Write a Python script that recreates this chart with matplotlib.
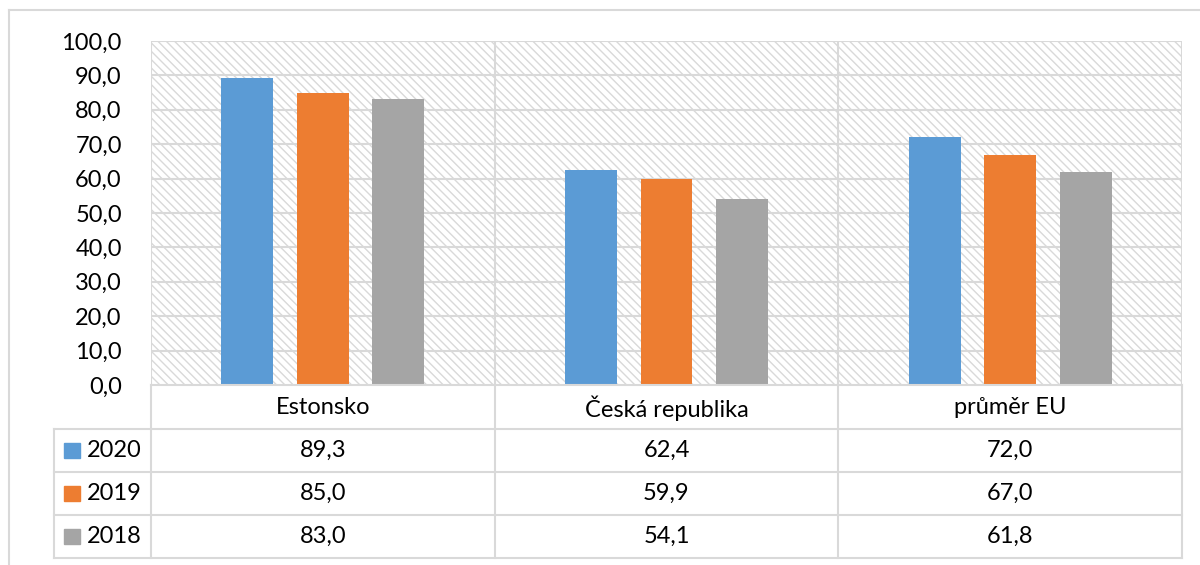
import matplotlib.pyplot as plt
from matplotlib.lines import Line2D
from matplotlib.patches import Rectangle

# Data
kategorie = ["Estonsko", "Česká republika", "průměr EU"]
roky = ["2020", "2019", "2018"]
hodnoty_2020 = [89.3, 62.4, 72.0]
hodnoty_2019 = [85.0, 59.9, 67.0]
hodnoty_2018 = [83.0, 54.1, 61.8]
barvy = ["#5B9BD5", "#ED7D31", "#A5A5A5"]

serie = [hodnoty_2020, hodnoty_2019, hodnoty_2018]
seda = "#d9d9d9"
fs = 17

plt.rcParams['font.family'] = ['Lato', 'DejaVu Sans']
plt.rcParams['hatch.linewidth'] = 1.0

W, H = 1200, 565
fig = plt.figure(figsize=(W / 100, H / 100), dpi=100)


def px(x, y):
    # pixely (zleva, shora) -> souřadnice obrázku
    return x / W, 1 - y / H


x0, y_top = px(151, 41)
x1, y_bot = px(1182, 385)
ax = fig.add_axes([x0, y_bot, x1 - x0, y_top - y_bot])
ax.set_xlim(-0.5, len(kategorie) - 0.5)
ax.set_ylim(0, 100)

# šrafované pozadí
ax.add_patch(Rectangle((0, 0), 1, 1, transform=ax.transAxes, facecolor="white",
                       edgecolor=seda, hatch="\\\\\\\\", linewidth=0, zorder=0))

# mřížka
for y in range(10, 101, 10):
    ax.axhline(y, color=seda, linewidth=1.5, zorder=1)
for i in range(len(kategorie) + 1):
    ax.axvline(i - 0.5, color=seda, linewidth=1.5, zorder=1)

# sloupce
posun = [-0.22, 0.0, 0.22]
for s, hodnoty in enumerate(serie):
    ax.bar([i + posun[s] for i in range(len(kategorie))], hodnoty, width=0.151,
           color=barvy[s], zorder=2, label=roky[s])

ax.set_yticks(range(0, 101, 10))
ax.set_yticklabels([f"{v:.1f}".replace(".", ",") for v in range(0, 101, 10)], fontsize=fs)
ax.tick_params(axis="y", length=0, pad=21)
ax.set_xticks([])
for sp in ax.spines.values():
    sp.set_visible(False)

# tabulka s hodnotami pod grafem
fig.canvas.draw()
hrany = [fig.transFigure.inverted().transform(ax.transData.transform((i - 0.5, 0)))[0]
         for i in range(len(kategorie) + 1)]
stredy = [(hrany[i] + hrany[i + 1]) / 2 for i in range(len(kategorie))]

radky = [385, 429, 472, 515, 558]
lw = 1.5


def cara(xa, ya, xb, yb):
    fig.add_artist(Line2D([xa, xb], [ya, yb], color=seda, linewidth=lw))


_, yl = px(0, radky[0])
cara(hrany[0], yl, hrany[-1], yl)
for r in radky[1:]:
    _, yr = px(0, r)
    cara(54 / W, yr, hrany[-1], yr)
for xe in hrany:
    cara(xe, px(0, radky[0])[1], xe, px(0, radky[-1])[1])
cara(54 / W, px(0, radky[1])[1], 54 / W, px(0, radky[-1])[1])

# popisky kategorií
yc = px(0, (radky[0] + radky[1]) / 2 + 1)[1]
for i, k in enumerate(kategorie):
    fig.text(stredy[i], yc, k, ha="center", va="center", fontsize=fs)

# řádky s hodnotami
for s, hodnoty in enumerate(serie):
    ym = (radky[s + 1] + radky[s + 2]) / 2
    fig.add_artist(Rectangle(px(64, ym + 7), 16 / W, 15 / H, color=barvy[s]))
    fig.text(87 / W, px(0, ym)[1], roky[s], ha="left", va="center", fontsize=fs)
    for i, v in enumerate(hodnoty):
        fig.text(stredy[i], px(0, ym)[1], f"{v:.1f}".replace(".", ","),
                 ha="center", va="center", fontsize=fs)

# vnější rámeček
cara(9 / W, px(0, 10)[1], 1.0, px(0, 10)[1])
cara(9 / W, px(0, 10)[1], 9 / W, 0.0)

fig.savefig("out.png", dpi=100)
